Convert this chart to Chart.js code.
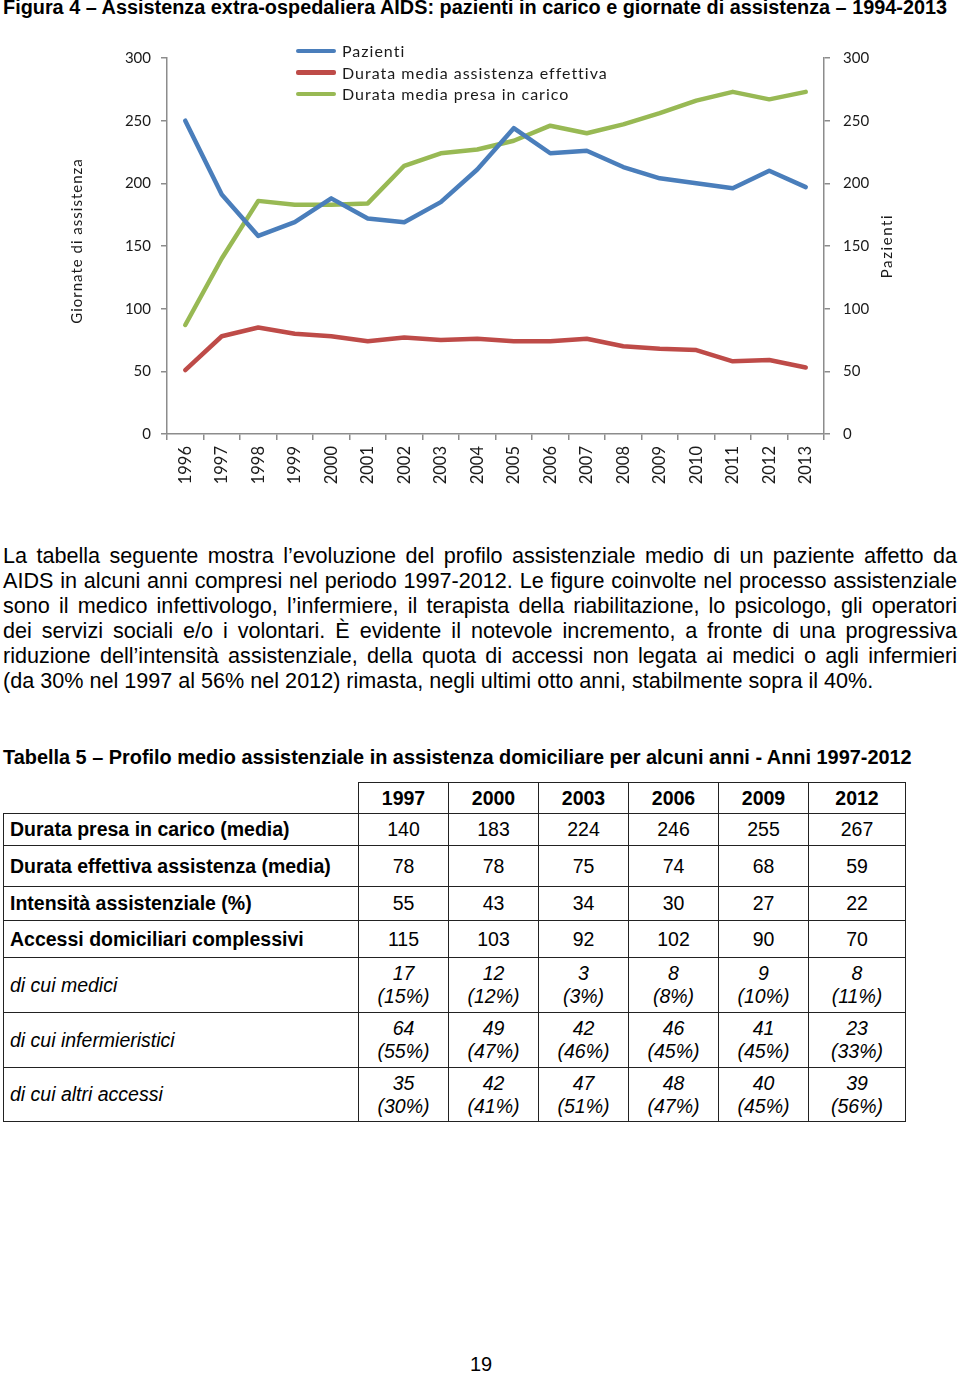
<!DOCTYPE html>
<html lang="it">
<head>
<meta charset="utf-8">
<title>Figura 4 - Assistenza extra-ospedaliera AIDS</title>
<script src="https://cdn.jsdelivr.net/npm/chart.js@4.4.1/dist/chart.umd.min.js"></script>
<style>
  body { margin: 0; width: 960px; height: 1375px; position: relative; background: #fff; color: #000;
         font-family: "Liberation Sans", Arial, sans-serif; overflow: hidden; }
  #titoloFig { position: absolute; left: 3px; top: -4px; white-space: nowrap; font-weight: bold; font-size: 20px;
               transform-origin: 0 0; }
  #boxGrafico { position: absolute; left: 0; top: 30px; width: 960px; height: 470px; }
  #legenda { position: absolute; left: 296px; top: 40px; font-family: Lato, sans-serif; font-size: 16px;
             letter-spacing: 1px; color: #1a1a1a; }
  .riga-leg { height: 21.5px; display: flex; align-items: center; }
  .linea-leg { width: 40px; height: 4.5px; margin-right: 6px; border-radius: 2px; }
  #testo { position: absolute; left: 3px; top: 543px; width: 954px; font-size: 21.6px; line-height: 25px; }
  #testo div { text-align: justify; text-align-last: justify; }
  #testo div:last-child { text-align-last: left; }
  #titoloTab { position: absolute; left: 3px; top: 746px; white-space: nowrap; font-weight: bold; font-size: 19.9px; }
  #tabella { position: absolute; left: 3px; top: 782px; border-collapse: collapse; font-size: 19.5px; table-layout: fixed; }
  #tabella td, #tabella th { border: 1.5px solid #222; text-align: center; padding: 0; }
  #tabella th { font-weight: bold; }
  #tabella th.vuota { border-top: none; border-left: none; }
  #tabella td.etichetta { text-align: left; padding-left: 6px; }
  #tabella tr.principale td.etichetta { font-weight: bold; }
  #tabella tr.dettaglio td { font-style: italic; line-height: 23px; }
  #pagina { position: absolute; left: 0; width: 962px; top: 1353px; text-align: center; font-size: 20px; }
</style>
</head>
<body>
<div id="titoloFig">Figura 4 – Assistenza extra-ospedaliera AIDS: pazienti in carico e giornate di assistenza – 1994-2013</div>
<div id="boxGrafico"><canvas id="grafico" width="960" height="470"></canvas></div>
<div id="legenda"></div>

<div id="testo">
<div>La tabella seguente mostra l’evoluzione del profilo assistenziale medio di un paziente affetto da</div>
<div>AIDS in alcuni anni compresi nel periodo 1997-2012. Le figure coinvolte nel processo assistenziale</div>
<div>sono il medico infettivologo, l’infermiere, il terapista della riabilitazione, lo psicologo, gli operatori</div>
<div>dei servizi sociali e/o i volontari. È evidente il notevole incremento, a fronte di una progressiva</div>
<div>riduzione dell’intensità assistenziale, della quota di accessi non legata ai medici o agli infermieri</div>
<div>(da 30% nel 1997 al 56% nel 2012) rimasta, negli ultimi otto anni, stabilmente sopra il 40%.</div>
</div>

<div id="titoloTab">Tabella 5 – Profilo medio assistenziale in assistenza domiciliare per alcuni anni - Anni 1997-2012</div>
<table id="tabella"></table>

<div id="pagina">19</div>

<script>
// dati del grafico
const anni = ['1996', '1997', '1998', '1999', '2000', '2001', '2002', '2003', '2004',
              '2005', '2006', '2007', '2008', '2009', '2010', '2011', '2012', '2013'];
const pazienti = [250, 191, 158, 169, 188, 172, 169, 185, 211, 244, 224, 226, 213, 204, 200, 196, 210, 197];
const durataEffettiva = [51, 78, 85, 80, 78, 74, 77, 75, 76, 74, 74, 76, 70, 68, 67, 58, 59, 53];
const durataPresa = [87, 140, 186, 183, 183, 184, 214, 224, 227, 234, 246, 240, 247, 256, 266, 273, 267, 273];
const asseMin = 0, asseMax = 300, passo = 50;

// dati della tabella
const anniTab = ['1997', '2000', '2003', '2006', '2009', '2012'];
const presaMedia = [140, 183, 224, 246, 255, 267];
const effettivaMedia = [78, 78, 75, 74, 68, 59];
const intensita = [55, 43, 34, 30, 27, 22];
const accessi = [115, 103, 92, 102, 90, 70];
const medici = [17, 12, 3, 8, 9, 8];
const mediciPerc = [15, 12, 3, 8, 10, 11];
const infermieri = [64, 49, 42, 46, 41, 23];
const infermieriPerc = [55, 47, 46, 45, 45, 33];
const altri = [35, 42, 47, 48, 40, 39];
const altriPerc = [30, 41, 51, 47, 45, 56];

const GRIGIO = '#8c8c8c';
const TESTO = '#1a1a1a';

const serie = [
    { label: 'Pazienti', data: pazienti, colore: '#4A7EBB', asse: 'y1' },
    { label: 'Durata media assistenza effettiva', data: durataEffettiva, colore: '#BE4B48', asse: 'y' },
    { label: 'Durata media presa in carico', data: durataPresa, colore: '#98B954', asse: 'y' }
];

// legenda html
function creaLegenda() {
    const box = document.getElementById('legenda');
    serie.forEach(s => {
        const riga = document.createElement('div');
        riga.className = 'riga-leg';
        riga.innerHTML = '<span class="linea-leg" style="background:' + s.colore + '"></span><span>' + s.label + '</span>';
        box.appendChild(riga);
    });
}

// titoli degli assi, entrambi letti dal basso verso l'alto
function scriviVerticale(ctx, testo, x, y, spaziatura) {
    ctx.save();
    ctx.translate(x, y);
    ctx.rotate(-Math.PI / 2);
    ctx.font = '15px Lato';
    ctx.letterSpacing = spaziatura;
    ctx.fillStyle = TESTO;
    ctx.textAlign = 'center';
    ctx.textBaseline = 'middle';
    ctx.fillText(testo, 0, 0);
    ctx.restore();
}

const titoliAssi = {
    id: 'titoliAssi',
    afterDraw(chart) {
        const { ctx, chartArea, scales } = chart;
        const centro = (chartArea.top + chartArea.bottom) / 2;
        scriviVerticale(ctx, 'Giornate di assistenza', scales.y.left + 13, centro - 5, '1px');
        scriviVerticale(ctx, 'Pazienti', scales.y1.right - 73, centro, '1.6px');
    }
};

function asseY(pos, larghezza) {
    return {
        position: pos,
        min: asseMin,
        max: asseMax,
        ticks: { stepSize: passo, padding: pos === 'left' ? 10 : 13, color: TESTO, font: { family: 'Lato', size: 15 } },
        grid: { drawOnChartArea: false, tickLength: 6, color: GRIGIO, lineWidth: 1.5 },
        border: { color: GRIGIO, width: 1.5 },
        afterFit(s) { s.width = larghezza; }
    };
}

function disegnaGrafico() {
    new Chart(document.getElementById('grafico'), {
        type: 'line',
        data: {
            labels: anni,
            datasets: serie.map(s => ({
                label: s.label,
                data: s.data,
                borderColor: s.colore,
                backgroundColor: s.colore,
                borderWidth: 4.5,
                pointRadius: 0,
                tension: 0,
                borderCapStyle: 'round',
                borderJoinStyle: 'round',
                yAxisID: s.asse
            }))
        },
        options: {
            responsive: false,
            animation: false,
            layout: { padding: { left: 64, top: 28, right: 0, bottom: 0 } },
            plugins: { legend: { display: false }, tooltip: { enabled: false } },
            scales: {
                x: {
                    offset: true,
                    grid: { offset: true, drawOnChartArea: false, tickLength: 6, color: GRIGIO, lineWidth: 1.5 },
                    border: { color: GRIGIO, width: 1.5 },
                    ticks: { autoSkip: false, minRotation: 90, maxRotation: 90, padding: 6, color: TESTO, font: { family: 'Lato', size: 16.5 } },
                    afterFit(s) { s.height = 66; }
                },
                y: asseY('left', 103),
                y1: asseY('right', 136)
            }
        },
        plugins: [titoliAssi]
    });
}

// tabella
function creaTabella() {
    const tab = document.getElementById('tabella');
    const larghezze = [355, 90, 90, 90, 90, 90, 97];
    let html = '<colgroup>' + larghezze.map(w => '<col style="width:' + w + 'px">').join('') + '</colgroup>';
    html += '<tr style="height:31px"><th class="vuota"></th>' + anniTab.map(a => '<th>' + a + '</th>').join('') + '</tr>';
    const principali = [
        ['Durata presa in carico (media)', presaMedia, 32],
        ['Durata effettiva assistenza (media)', effettivaMedia, 41],
        ['Intensità assistenziale (%)', intensita, 34],
        ['Accessi domiciliari complessivi', accessi, 37]
    ];
    principali.forEach(r => {
        html += '<tr class="principale" style="height:' + r[2] + 'px"><td class="etichetta">' + r[0] + '</td>' +
            r[1].map(v => '<td>' + v + '</td>').join('') + '</tr>';
    });
    const dettagli = [
        ['di cui medici', medici, mediciPerc, 55],
        ['di cui infermieristici', infermieri, infermieriPerc, 55],
        ['di cui altri accessi', altri, altriPerc, 54]
    ];
    dettagli.forEach(r => {
        html += '<tr class="dettaglio" style="height:' + r[3] + 'px"><td class="etichetta">' + r[0] + '</td>' +
            r[1].map((v, i) => '<td>' + v + '<br>(' + r[2][i] + '%)</td>').join('') + '</tr>';
    });
    tab.innerHTML = html;
}

// titolo compresso sulla larghezza della pagina, righe del testo su una sola riga
function adattaTesti() {
    const t = document.getElementById('titoloFig');
    t.style.transform = 'scaleX(' + (944 / t.scrollWidth) + ')';
    document.querySelectorAll('#testo div').forEach(r => {
        let size = 21.6;
        while (r.offsetHeight > 30 && size > 16) {
            size -= 0.2;
            r.style.fontSize = size + 'px';
        }
    });
}

document.addEventListener('DOMContentLoaded', function () {
    creaLegenda();
    creaTabella();
    adattaTesti();
    disegnaGrafico();
});
</script>
</body>
</html>
